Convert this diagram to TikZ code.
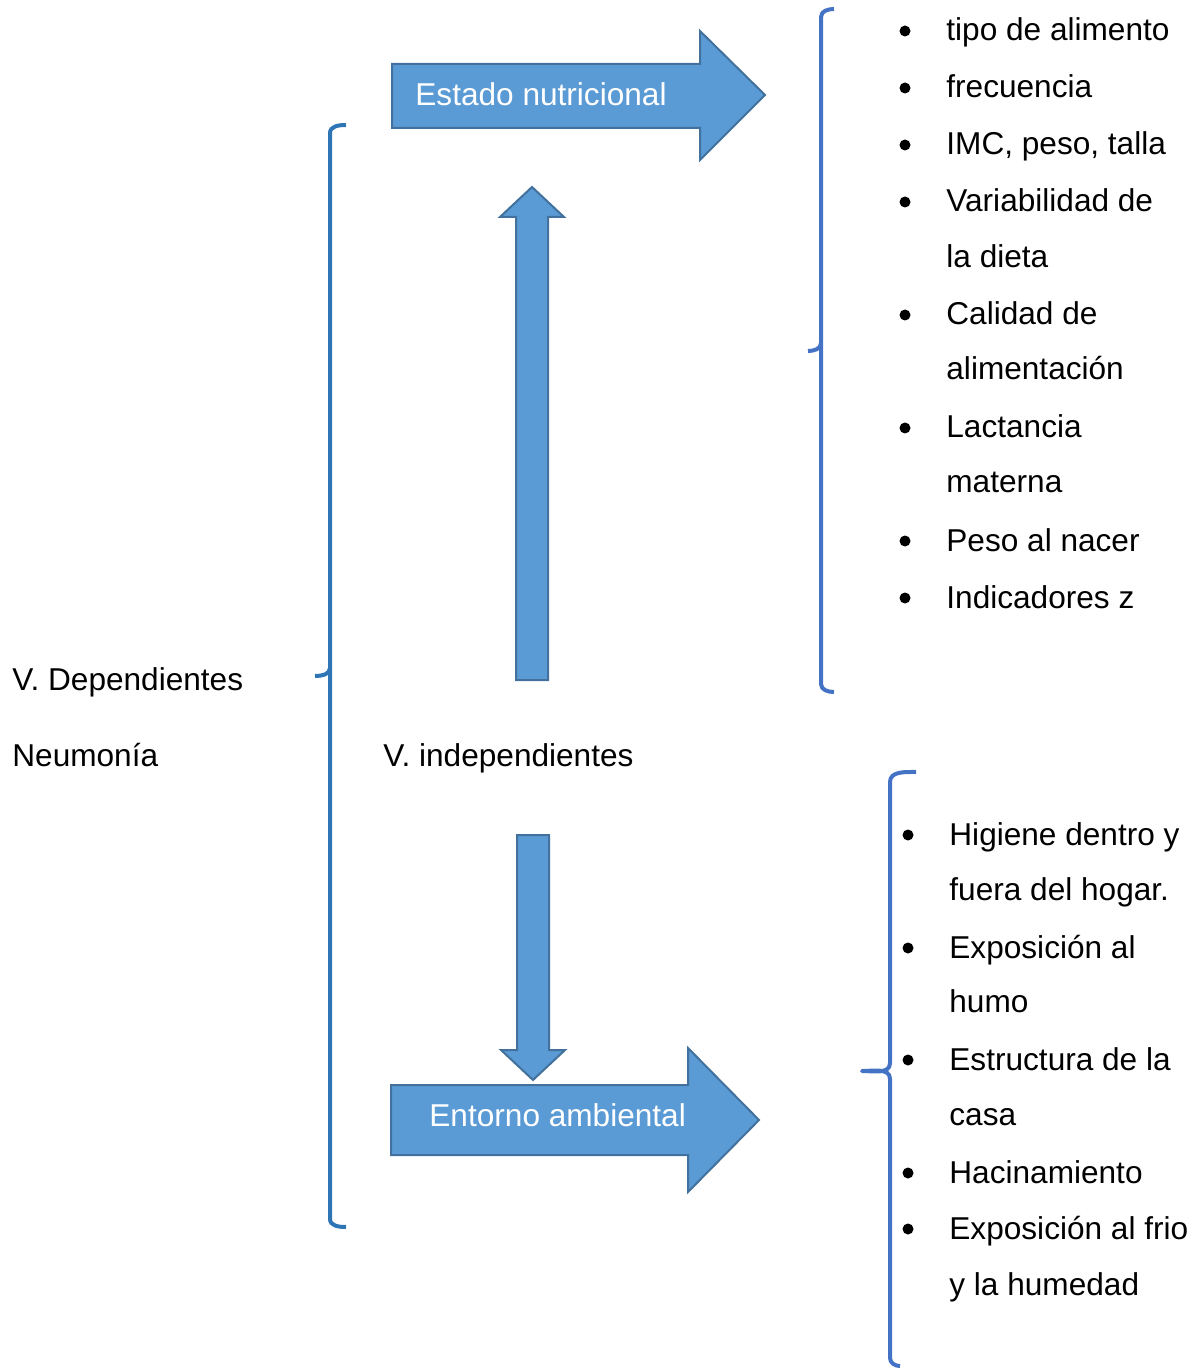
\documentclass[tikz,border=0pt]{standalone}
\usepackage{fontspec}
\setmainfont{Liberation Sans}
\definecolor{arrowblue}{HTML}{5B9BD5}
\definecolor{arrowedge}{HTML}{41719C}
\definecolor{leftbrace}{HTML}{2E75B6}
\definecolor{rightbrace}{HTML}{4472C4}

\begin{document}
\begin{tikzpicture}[x=0.5pt, y=-0.5pt, font=\fontsize{15.8}{19}\selectfont,
  txt/.style={anchor=base west, inner sep=0pt},
  dot/.style={circle, fill=black, inner sep=0pt, minimum size=5.5pt},
  blockarrow/.style={fill=arrowblue, draw=arrowedge, line width=1pt, line join=miter},
  bracket/.style={line width=2pt, line join=round}]
\useasboundingbox (0,0) rectangle (1200,1368);

% Left bracket
\draw[bracket, leftbrace] (346,125) to[out=180,in=90] (330,133) -- (330,668) to[out=-90,in=0] (315,676) (330,668) -- (330,684) -- (330,1219) to[out=-90,in=180] (346,1227);

% Top right bracket
\draw[bracket, rightbrace] (834,9) to[out=180,in=90] (821,17) -- (821,343) to[out=-90,in=0] (808,351) (821,343) -- (821,684) to[out=-90,in=180] (834,692);

% Bottom right bracket
\draw[bracket, rightbrace] (916,772) to[out=180,in=90] (890,782) -- (890,1063) to[out=-90,in=0] (862,1071) to[out=0,in=90] (890,1079) -- (890,1358) to[out=-90,in=180] (900,1366);

% Block arrows
\draw[blockarrow] (392,64) -- (700,64) -- (700,31) -- (765,95) -- (700,160) -- (700,128) -- (392,128) -- cycle;
\draw[blockarrow] (516,680) -- (516,217) -- (500,217) -- (532,187) -- (564,217) -- (548,217) -- (548,680) -- cycle;
\draw[blockarrow] (517,835) -- (549,835) -- (549,1050) -- (565,1050) -- (533,1080) -- (501,1050) -- (517,1050) -- cycle;
\draw[blockarrow] (391,1085) -- (688,1085) -- (688,1048) -- (759,1120) -- (688,1192) -- (688,1155) -- (391,1155) -- cycle;

\node[txt, white] (estado) at (415,106) {Estado nutricional};
\node[txt, white] (entorno) at (429,1126) {Entorno ambiental};

% Variables
\node[txt] (dep) at (12,690) {V. Dependientes};
\node[txt] (neumonia) at (12,766) {Neumonía};
\node[txt] (indep) at (383,766) {V. independientes};

% Nutritional items
\node[dot] (b1) at (905,31) {};
\node[txt] (n1) at (946,41) {tipo de alimento};
\node[dot] (b2) at (905,88) {};
\node[txt] (n2) at (946,98) {frecuencia};
\node[dot] (b3) at (905,145) {};
\node[txt] (n3) at (946,155) {IMC, peso, talla};
\node[dot] (b4) at (905,202) {};
\node[txt] (n4) at (946,212) {Variabilidad de};
\node[txt] (n4b) at (946,268) {la dieta};
\node[dot] (b5) at (905,315) {};
\node[txt] (n5) at (946,325) {Calidad de};
\node[txt] (n5b) at (946,380) {alimentación};
\node[dot] (b6) at (905,428) {};
\node[txt] (n6) at (946,438) {Lactancia};
\node[txt] (n6b) at (946,493) {materna};
\node[dot] (b7) at (905,541) {};
\node[txt] (n7) at (946,551) {Peso al nacer};
\node[dot] (b8) at (905,598) {};
\node[txt] (n8) at (946,608) {Indicadores z};

% Environmental items
\node[dot] (c1) at (908,835) {};
\node[txt] (e1) at (949,845) {Higiene dentro y};
\node[txt] (e1b) at (949,900) {fuera del hogar.};
\node[dot] (c2) at (908,948) {};
\node[txt] (e2) at (949,958) {Exposición al};
\node[txt] (e2b) at (949,1012) {humo};
\node[dot] (c3) at (908,1060) {};
\node[txt] (e3) at (949,1070) {Estructura de la};
\node[txt] (e3b) at (949,1125) {casa};
\node[dot] (c4) at (908,1173) {};
\node[txt] (e4) at (949,1183) {Hacinamiento};
\node[dot] (c5) at (908,1229) {};
\node[txt] (e5) at (949,1239) {Exposición al frio};
\node[txt] (e5b) at (949,1295) {y la humedad};
\end{tikzpicture}
\end{document}
